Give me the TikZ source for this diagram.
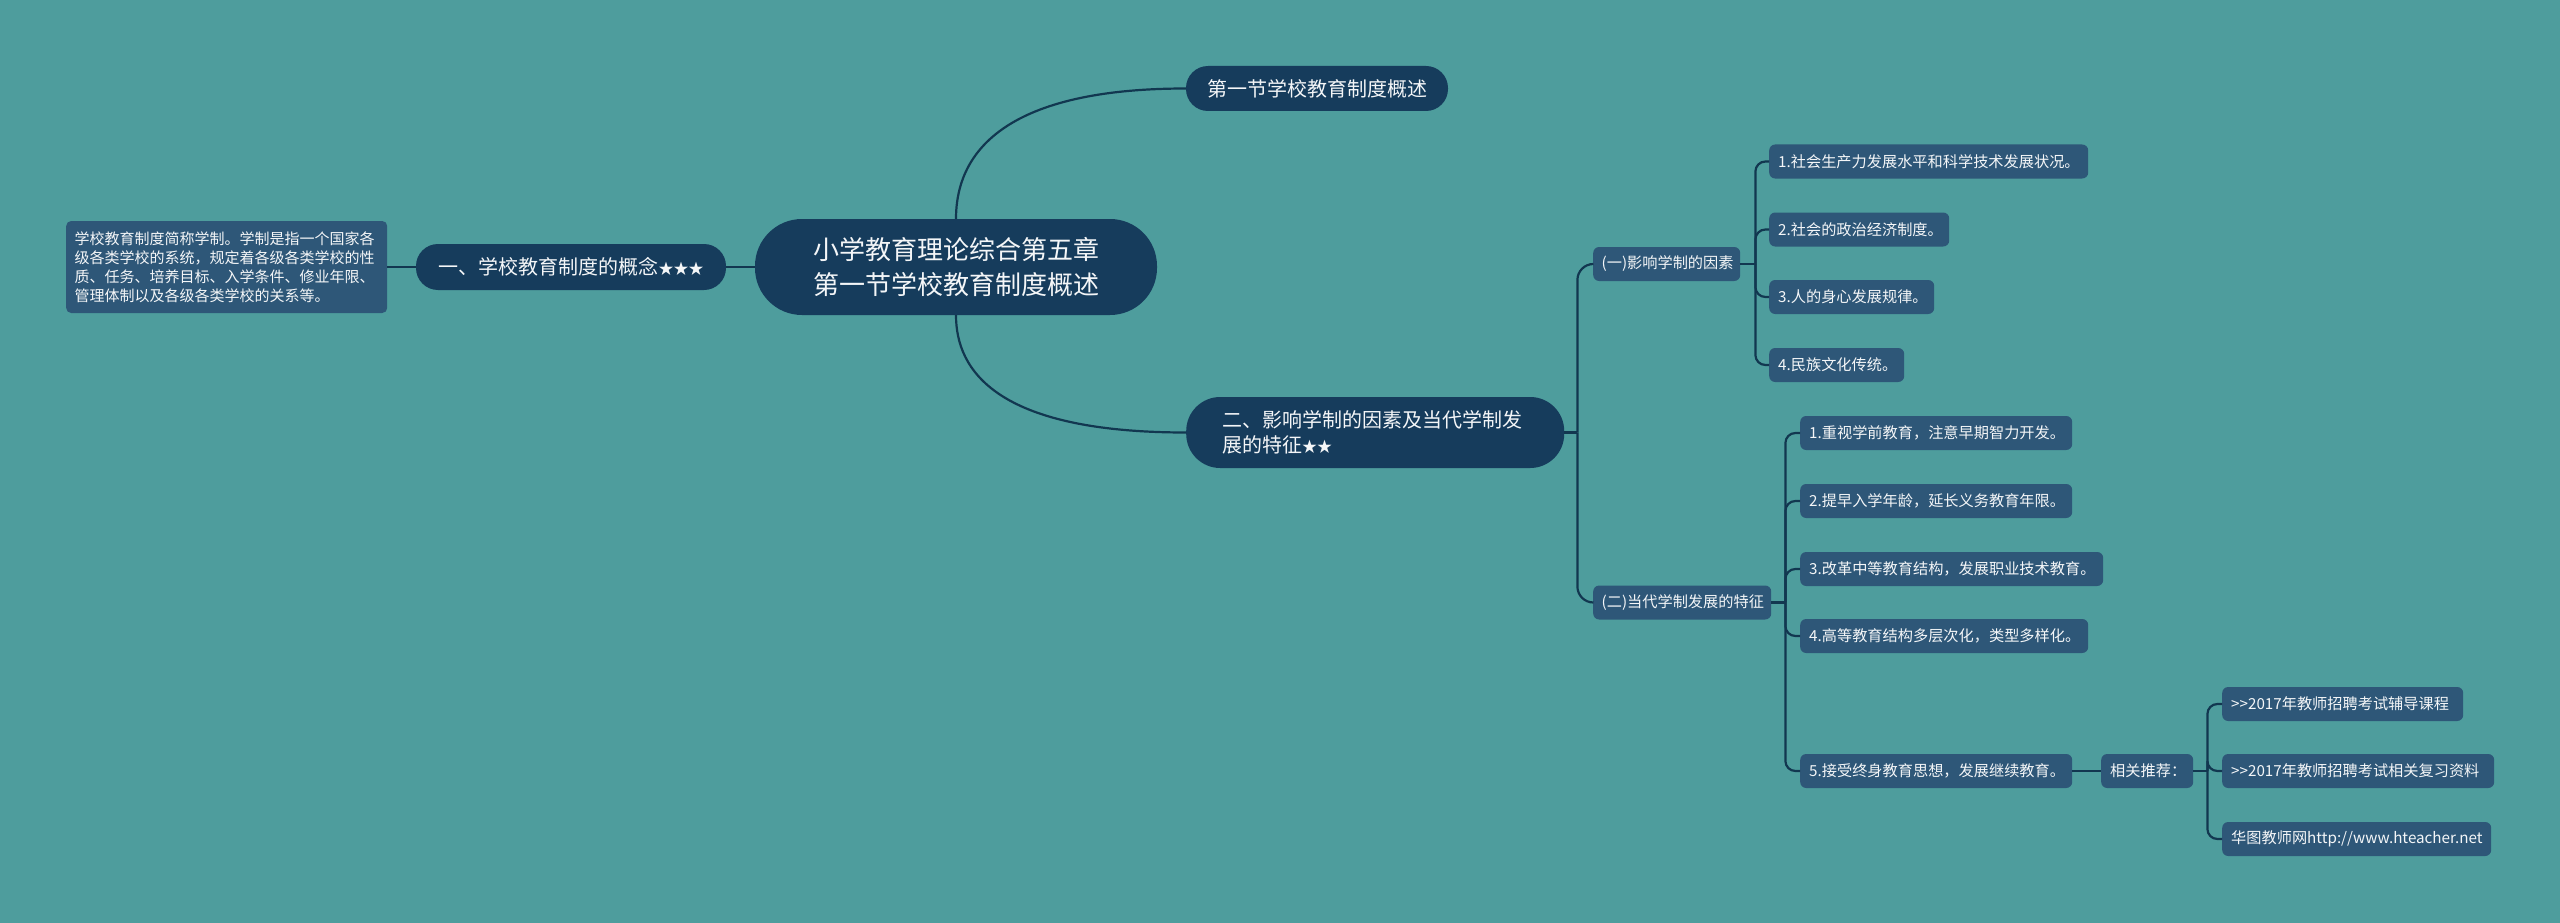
\documentclass[tikz,border=0pt]{standalone}
\usepackage{fontspec}
\setmainfont{Noto Sans CJK SC}
\usetikzlibrary{calc}
\definecolor{bgc}{HTML}{4E9D9D}
\definecolor{darkc}{HTML}{163C5C}
\definecolor{leafc}{HTML}{2E5778}
\definecolor{linec}{HTML}{123750}
\definecolor{txtc}{HTML}{F4F6F8}
\newcommand\leaffont{\fontsize{15.2pt}{18pt}\selectfont}
\newcommand\midfont{\fontsize{15.2pt}{18pt}\selectfont}
\newcommand\starfont{\fontsize{15pt}{15pt}\selectfont}
\newcommand\gtgt{>\kern0pt>}
\tikzset{
  conn/.style={draw=linec, line width=2.2pt},
  pill/.style={fill=darkc, text=txtc, inner sep=0pt, align=center},
  leaf/.style={fill=leafc, text=txtc, rounded corners=6pt, inner xsep=9pt, inner ysep=0pt,
               minimum height=34pt, anchor=west, align=left, font=\leaffont},
  midbox/.style={leaf, inner xsep=8.5pt, font=\midfont},
}
\begin{document}
\begin{tikzpicture}[x=1pt,y=-1pt]
\fill[bgc] (0,0) rectangle (2560,923);
\useasboundingbox (0,0) rectangle (2560,923);

% root and main branches
\node[pill, rounded corners=47pt, minimum width=402pt, minimum height=96pt,
      font=\fontsize{26pt}{35pt}\selectfont] (root) at (956,267)
      {小学教育理论综合第五章\\第一节学校教育制度概述};
\node[pill, rounded corners=22pt, minimum width=262pt, minimum height=45pt,
      font=\fontsize{20pt}{24pt}\selectfont] (top) at (1317,88.5) {第一节学校教育制度概述};
\node[pill, rounded corners=22pt, minimum width=310pt, minimum height=46pt,
      font=\fontsize{20pt}{24pt}\selectfont] (l1) at (571,267)
      {一、学校教育制度的概念{\starfont ★★★}};
\node[leaf, rounded corners=5pt, text width=304pt, inner xsep=8.5pt, minimum height=92pt,
      font=\fontsize{15pt}{19pt}\selectfont] (lbox) at (66,267)
      {学校教育制度简称学制。学制是指一个国家各\\级各类学校的系统，规定着各级各类学校的性\\质、任务、培养目标、入学条件、修业年限、\\管理体制以及各级各类学校的关系等。};
\node[pill, rounded corners=34pt, minimum height=71pt, text width=306pt, inner xsep=36pt,
      align=left, anchor=west, font=\fontsize{20pt}{25pt}\selectfont] (n2) at (1186,432.5)
      {二、影响学制的因素及当代学制发\\展的特征{\starfont ★★}};

% second level
\node[midbox, text width=130pt] (k1) at (1593,264) {(一)影响学制的因素};
\node[midbox, text width=161pt] (k2) at (1593,602.5) {(二)当代学制发展的特征};

% factors
\node[leaf, text width=301pt] (f1) at (1769,161.5) {1.社会生产力发展水平和科学技术发展状况。};
\node[leaf, text width=162pt] (f2) at (1769,229.5) {2.社会的政治经济制度。};
\node[leaf, text width=147pt] (f3) at (1769,297) {3.人的身心发展规律。};
\node[leaf, text width=117pt] (f4) at (1769,365) {4.民族文化传统。};

% characteristics
\node[leaf, text width=254pt] (c1) at (1800,433) {1.重视学前教育，注意早期智力开发。};
\node[leaf, text width=254pt] (c2) at (1800,501) {2.提早入学年龄，延长义务教育年限。};
\node[leaf, text width=285pt] (c3) at (1800,569) {3.改革中等教育结构，发展职业技术教育。};
\node[leaf, text width=270pt] (c4) at (1800,636) {4.高等教育结构多层次化，类型多样化。};
\node[leaf, text width=254pt] (c5) at (1800,771) {5.接受终身教育思想，发展继续教育。};

% recommendations
\node[leaf, text width=74pt] (rec) at (2101,771) {相关推荐：};
\node[leaf, text width=223pt] (r1) at (2222,704) {\gtgt2017年教师招聘考试辅导课程};
\node[leaf, text width=254pt] (r2) at (2222,771) {\gtgt2017年教师招聘考试相关复习资料};
\node[leaf, text width=251pt] (r3) at (2222,839) {华图教师网http://www.hteacher.net};

% connectors
\draw[conn] (root.west) -- (l1.east);
\draw[conn] (l1.west) -- (lbox.east);
\draw[conn] (root.north) .. controls ($(root.north)+(0,-70)$) and ($(top.west)+(-176,0)$) .. (top.west);
\draw[conn] (root.south) .. controls ($(root.south)+(0,55)$) and ($(n2.west)+(-190,0)$) .. (n2.west);

\coordinate (b2) at ($(n2.east)+(13,0)$);
\draw[conn] (n2.east) -- (b2);
\draw[conn, rounded corners=16pt] (k1.west) -| (b2);
\draw[conn, rounded corners=16pt] (k2.west) -| (b2);

\coordinate (bk1) at ($(k1.east)+(15,0)$);
\draw[conn] (k1.east) -- (bk1);
\foreach \n in {f1,f2,f3,f4}
  \draw[conn, rounded corners=10pt] (\n.west) -| (bk1);

\coordinate (bk2) at ($(k2.east)+(14,0)$);
\draw[conn] (k2.east) -- (bk2);
\foreach \n in {c1,c2,c3,c4,c5}
  \draw[conn, rounded corners=10pt] (\n.west) -| (bk2);

\draw[conn] (c5.east) -- (rec.west);
\coordinate (brec) at ($(rec.east)+(14,0)$);
\draw[conn] (rec.east) -- (brec);
\foreach \n in {r1,r2,r3}
  \draw[conn, rounded corners=10pt] (\n.west) -| (brec);
\end{tikzpicture}
\end{document}
